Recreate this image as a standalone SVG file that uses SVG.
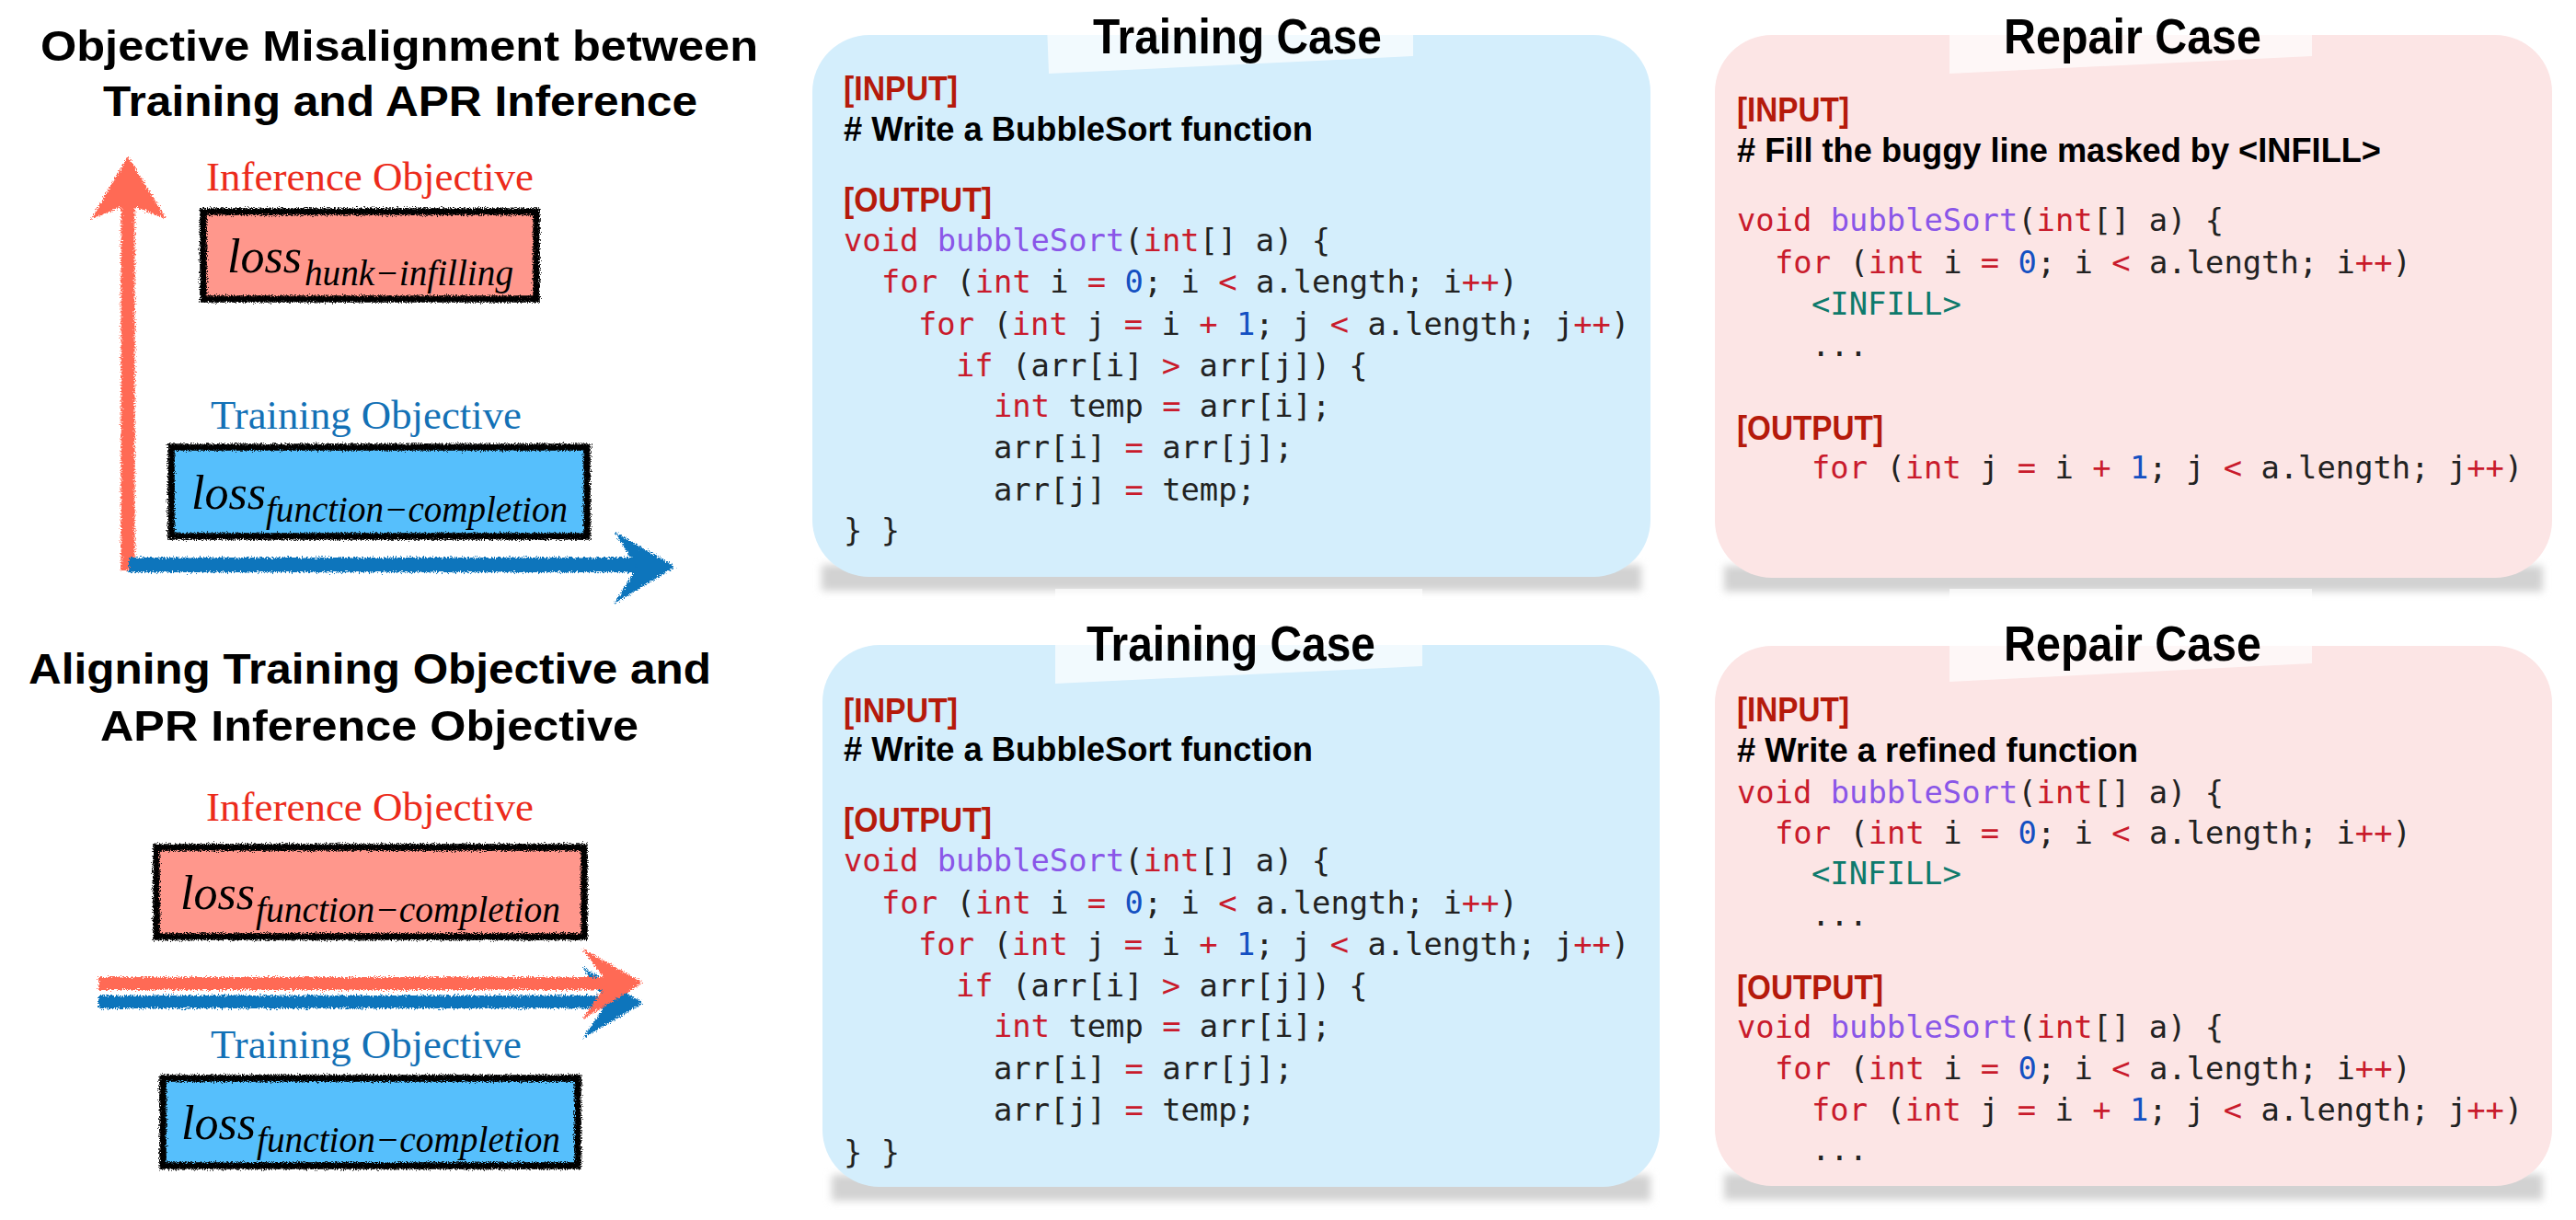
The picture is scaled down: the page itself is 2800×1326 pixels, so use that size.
<svg xmlns="http://www.w3.org/2000/svg" width="2800" height="1326" viewBox="0 0 2800 1326">
<style>
.h{font-family:"Liberation Sans",Arial,sans-serif;font-weight:bold;font-size:46px;fill:#000}
.ct{font-family:"Liberation Sans",Arial,sans-serif;font-weight:bold;font-size:54px;fill:#000}
.inf{font-family:"Liberation Serif","Times New Roman",serif;font-size:45px;fill:#EC2B1B}
.trn{font-family:"Liberation Serif","Times New Roman",serif;font-size:45px;fill:#1371B6}
.loss{font-family:"Liberation Serif","Times New Roman",serif;font-style:italic;fill:#000}
.lb{font-size:52px}
.sb{font-size:39px}
.lbl{font-family:"Liberation Sans",Arial,sans-serif;font-weight:bold;font-size:36px;fill:#B51A0B}
.cmt{font-family:"Liberation Sans",Arial,sans-serif;font-weight:bold;font-size:36px;fill:#000}
.code{font-family:"DejaVu Sans Mono","Liberation Mono",monospace;font-size:33.8px;fill:#222}
.k{fill:#C91B2C}.f{fill:#8A56E8}.n{fill:#1450C2}.t{fill:#0E7A6C}
.cardB{fill:#D4EEFC}.cardR{fill:#FCE5E5}
.shadow{fill:#D2D2D2;filter:url(#blur)}
.tape{fill:#FFFFFF;opacity:0.7}
.bord{fill:none;stroke:#000;stroke-width:7.5;filter:url(#rough)}
.red{fill:#FF978C}.blue{fill:#56BFFC}
</style>
<defs>
<filter id="blur" x="-5%" y="-50%" width="110%" height="200%"><feGaussianBlur stdDeviation="4"/></filter>
<filter id="rough" filterUnits="userSpaceOnUse" x="0" y="0" width="900" height="1326">
<feTurbulence type="fractalNoise" baseFrequency="0.9" numOctaves="2" seed="3" result="n"/>
<feDisplacementMap in="SourceGraphic" in2="n" scale="7" xChannelSelector="R" yChannelSelector="G"/>
</filter>
<filter id="chalk" filterUnits="userSpaceOnUse" x="0" y="0" width="900" height="1326">
<feTurbulence type="fractalNoise" baseFrequency="0.7" numOctaves="2" seed="7" result="n"/>
<feDisplacementMap in="SourceGraphic" in2="n" scale="8" xChannelSelector="R" yChannelSelector="G"/>
</filter>
</defs>
<rect width="2800" height="1326" fill="#fff"/>

<g id="title-misalignment">
<text class="h" x="44" y="66" textLength="780" lengthAdjust="spacingAndGlyphs">Objective Misalignment between</text>
<text class="h" x="112" y="126" textLength="646" lengthAdjust="spacingAndGlyphs">Training and APR Inference</text>
</g>
<g id="title-aligning">
<text class="h" x="31" y="743" textLength="742" lengthAdjust="spacingAndGlyphs">Aligning Training Objective and</text>
<text class="h" x="109" y="805" textLength="585" lengthAdjust="spacingAndGlyphs">APR Inference Objective</text>
</g>

<g id="connectors">
<g filter="url(#chalk)">
<line x1="139" y1="620" x2="139" y2="205" stroke="#FF6A55" stroke-width="15"/>
<polygon points="139,170 181,238 139,222 99,238" fill="#FF6A55"/>
<line x1="140" y1="614" x2="705" y2="614" stroke="#0B74BC" stroke-width="16"/>
<polygon points="734,616 668,578 692,616 668,656" fill="#0B74BC"/>
<line x1="107" y1="1089" x2="675" y2="1089" stroke="#0B74BC" stroke-width="14"/>
<polygon points="699,1090 633,1051 660,1090 633,1129" fill="#0B74BC"/>
<line x1="107" y1="1069" x2="675" y2="1069" stroke="#FF6A55" stroke-width="14"/>
<polygon points="699,1068 633,1031 660,1068 633,1108" fill="#FF6A55"/>
</g>
</g>

<g id="inference-objective-1">
<text class="inf" x="224" y="207" textLength="356" lengthAdjust="spacingAndGlyphs">Inference Objective</text>
<rect class="red" x="221" y="230" width="362" height="95"/>
<rect class="bord" x="221" y="230" width="362" height="95"/>
<text class="loss lb" x="247" y="296" textLength="81" lengthAdjust="spacingAndGlyphs">loss</text>
<text class="loss sb" x="331" y="310" textLength="227" lengthAdjust="spacingAndGlyphs">hunk−infilling</text>
</g>
<g id="training-objective-1">
<text class="trn" x="229" y="466" textLength="338" lengthAdjust="spacingAndGlyphs">Training Objective</text>
<rect class="blue" x="186" y="486" width="452" height="97"/>
<rect class="bord" x="186" y="486" width="452" height="97"/>
<text class="loss lb" x="208" y="553" textLength="81" lengthAdjust="spacingAndGlyphs">loss</text>
<text class="loss sb" x="289" y="567" textLength="328" lengthAdjust="spacingAndGlyphs">function−completion</text>
</g>
<g id="inference-objective-2">
<text class="inf" x="224" y="892" textLength="356" lengthAdjust="spacingAndGlyphs">Inference Objective</text>
<rect class="red" x="170" y="921" width="465" height="97"/>
<rect class="bord" x="170" y="921" width="465" height="97"/>
<text class="loss lb" x="196" y="988" textLength="81" lengthAdjust="spacingAndGlyphs">loss</text>
<text class="loss sb" x="278" y="1002" textLength="331" lengthAdjust="spacingAndGlyphs">function−completion</text>
</g>
<g id="training-objective-2">
<text class="trn" x="229" y="1150" textLength="338" lengthAdjust="spacingAndGlyphs">Training Objective</text>
<rect class="blue" x="177" y="1172" width="451" height="95"/>
<rect class="bord" x="177" y="1172" width="451" height="95"/>
<text class="loss lb" x="197" y="1238" textLength="81" lengthAdjust="spacingAndGlyphs">loss</text>
<text class="loss sb" x="279" y="1252" textLength="330" lengthAdjust="spacingAndGlyphs">function−completion</text>
</g>

<g id="training-case-1">
<rect class="shadow" x="893" y="614" width="891" height="28"/>
<rect class="cardB" x="883" y="38" width="911" height="589" rx="62"/>
<polygon class="tape" points="1137,0 1536,0 1536,61 1140,80"/>
<text class="ct" x="1188" y="58" textLength="314" lengthAdjust="spacingAndGlyphs">Training Case</text>
<text class="lbl" x="917" y="109" textLength="124" lengthAdjust="spacingAndGlyphs">[INPUT]</text>
<text class="cmt" x="917" y="153" textLength="510" lengthAdjust="spacingAndGlyphs"># Write a BubbleSort function</text>
<text class="lbl" x="917" y="230" textLength="161" lengthAdjust="spacingAndGlyphs">[OUTPUT]</text>
<text class="code" xml:space="preserve" x="917" y="273"><tspan class="k">void</tspan> <tspan class="f">bubbleSort</tspan>(<tspan class="k">int</tspan>[] a) {</text>
<text class="code" xml:space="preserve" x="958" y="318"><tspan class="k">for</tspan> (<tspan class="k">int</tspan> i <tspan class="k">=</tspan> <tspan class="n">0</tspan>; i <tspan class="k">&lt;</tspan> a.length; i<tspan class="k">++</tspan>)</text>
<text class="code" xml:space="preserve" x="998" y="364"><tspan class="k">for</tspan> (<tspan class="k">int</tspan> j <tspan class="k">=</tspan> i <tspan class="k">+</tspan> <tspan class="n">1</tspan>; j <tspan class="k">&lt;</tspan> a.length; j<tspan class="k">++</tspan>)</text>
<text class="code" xml:space="preserve" x="1039" y="409"><tspan class="k">if</tspan> (arr[i] <tspan class="k">&gt;</tspan> arr[j]) {</text>
<text class="code" xml:space="preserve" x="1080" y="453"><tspan class="k">int</tspan> temp <tspan class="k">=</tspan> arr[i];</text>
<text class="code" xml:space="preserve" x="1080" y="498">arr[i] <tspan class="k">=</tspan> arr[j];</text>
<text class="code" xml:space="preserve" x="1080" y="544">arr[j] <tspan class="k">=</tspan> temp;</text>
<text class="code" xml:space="preserve" x="917" y="588">} }</text>
</g>

<g id="training-case-2">
<rect class="shadow" x="904" y="1277" width="890" height="28"/>
<rect class="cardB" x="894" y="701" width="910" height="589" rx="62"/>
<polygon class="tape" points="1147,640 1546,640 1546,724 1147,743"/>
<text class="ct" x="1181" y="718" textLength="314" lengthAdjust="spacingAndGlyphs">Training Case</text>
<text class="lbl" x="917" y="785" textLength="124" lengthAdjust="spacingAndGlyphs">[INPUT]</text>
<text class="cmt" x="917" y="827" textLength="510" lengthAdjust="spacingAndGlyphs"># Write a BubbleSort function</text>
<text class="lbl" x="917" y="904" textLength="161" lengthAdjust="spacingAndGlyphs">[OUTPUT]</text>
<text class="code" xml:space="preserve" x="917" y="947"><tspan class="k">void</tspan> <tspan class="f">bubbleSort</tspan>(<tspan class="k">int</tspan>[] a) {</text>
<text class="code" xml:space="preserve" x="958" y="993"><tspan class="k">for</tspan> (<tspan class="k">int</tspan> i <tspan class="k">=</tspan> <tspan class="n">0</tspan>; i <tspan class="k">&lt;</tspan> a.length; i<tspan class="k">++</tspan>)</text>
<text class="code" xml:space="preserve" x="998" y="1038"><tspan class="k">for</tspan> (<tspan class="k">int</tspan> j <tspan class="k">=</tspan> i <tspan class="k">+</tspan> <tspan class="n">1</tspan>; j <tspan class="k">&lt;</tspan> a.length; j<tspan class="k">++</tspan>)</text>
<text class="code" xml:space="preserve" x="1039" y="1083"><tspan class="k">if</tspan> (arr[i] <tspan class="k">&gt;</tspan> arr[j]) {</text>
<text class="code" xml:space="preserve" x="1080" y="1127"><tspan class="k">int</tspan> temp <tspan class="k">=</tspan> arr[i];</text>
<text class="code" xml:space="preserve" x="1080" y="1173">arr[i] <tspan class="k">=</tspan> arr[j];</text>
<text class="code" xml:space="preserve" x="1080" y="1218">arr[j] <tspan class="k">=</tspan> temp;</text>
<text class="code" xml:space="preserve" x="917" y="1264">} }</text>
</g>

<g id="repair-case-1">
<rect class="shadow" x="1874" y="615" width="890" height="28"/>
<rect class="cardR" x="1864" y="38" width="910" height="590" rx="62"/>
<polygon class="tape" points="2119,0 2513,0 2513,61 2119,80"/>
<text class="ct" x="2178" y="58" textLength="280" lengthAdjust="spacingAndGlyphs">Repair Case</text>
<text class="lbl" x="1888" y="132" textLength="122" lengthAdjust="spacingAndGlyphs">[INPUT]</text>
<text class="cmt" x="1888" y="176" textLength="700" lengthAdjust="spacingAndGlyphs"># Fill the buggy line masked by &lt;INFILL&gt;</text>
<text class="code" xml:space="preserve" x="1888" y="251"><tspan class="k">void</tspan> <tspan class="f">bubbleSort</tspan>(<tspan class="k">int</tspan>[] a) {</text>
<text class="code" xml:space="preserve" x="1929" y="297"><tspan class="k">for</tspan> (<tspan class="k">int</tspan> i <tspan class="k">=</tspan> <tspan class="n">0</tspan>; i <tspan class="k">&lt;</tspan> a.length; i<tspan class="k">++</tspan>)</text>
<text class="code t" x="1969" y="342">&lt;INFILL&gt;</text>
<text class="code" x="1969" y="387">...</text>
<text class="lbl" x="1888" y="478" textLength="159" lengthAdjust="spacingAndGlyphs">[OUTPUT]</text>
<text class="code" xml:space="preserve" x="1969" y="520"><tspan class="k">for</tspan> (<tspan class="k">int</tspan> j <tspan class="k">=</tspan> i <tspan class="k">+</tspan> <tspan class="n">1</tspan>; j <tspan class="k">&lt;</tspan> a.length; j<tspan class="k">++</tspan>)</text>
</g>

<g id="repair-case-2">
<rect class="shadow" x="1874" y="1276" width="890" height="28"/>
<rect class="cardR" x="1864" y="702" width="910" height="587" rx="62"/>
<polygon class="tape" points="2119,640 2513,640 2513,721 2119,741"/>
<text class="ct" x="2178" y="718" textLength="280" lengthAdjust="spacingAndGlyphs">Repair Case</text>
<text class="lbl" x="1888" y="784" textLength="122" lengthAdjust="spacingAndGlyphs">[INPUT]</text>
<text class="cmt" x="1888" y="828" textLength="436" lengthAdjust="spacingAndGlyphs"># Write a refined function</text>
<text class="code" xml:space="preserve" x="1888" y="873"><tspan class="k">void</tspan> <tspan class="f">bubbleSort</tspan>(<tspan class="k">int</tspan>[] a) {</text>
<text class="code" xml:space="preserve" x="1929" y="917"><tspan class="k">for</tspan> (<tspan class="k">int</tspan> i <tspan class="k">=</tspan> <tspan class="n">0</tspan>; i <tspan class="k">&lt;</tspan> a.length; i<tspan class="k">++</tspan>)</text>
<text class="code t" x="1969" y="961">&lt;INFILL&gt;</text>
<text class="code" x="1969" y="1006">...</text>
<text class="lbl" x="1888" y="1086" textLength="159" lengthAdjust="spacingAndGlyphs">[OUTPUT]</text>
<text class="code" xml:space="preserve" x="1888" y="1128"><tspan class="k">void</tspan> <tspan class="f">bubbleSort</tspan>(<tspan class="k">int</tspan>[] a) {</text>
<text class="code" xml:space="preserve" x="1929" y="1173"><tspan class="k">for</tspan> (<tspan class="k">int</tspan> i <tspan class="k">=</tspan> <tspan class="n">0</tspan>; i <tspan class="k">&lt;</tspan> a.length; i<tspan class="k">++</tspan>)</text>
<text class="code" xml:space="preserve" x="1969" y="1218"><tspan class="k">for</tspan> (<tspan class="k">int</tspan> j <tspan class="k">=</tspan> i <tspan class="k">+</tspan> <tspan class="n">1</tspan>; j <tspan class="k">&lt;</tspan> a.length; j<tspan class="k">++</tspan>)</text>
<text class="code" x="1969" y="1261">...</text>
</g>
</svg>
